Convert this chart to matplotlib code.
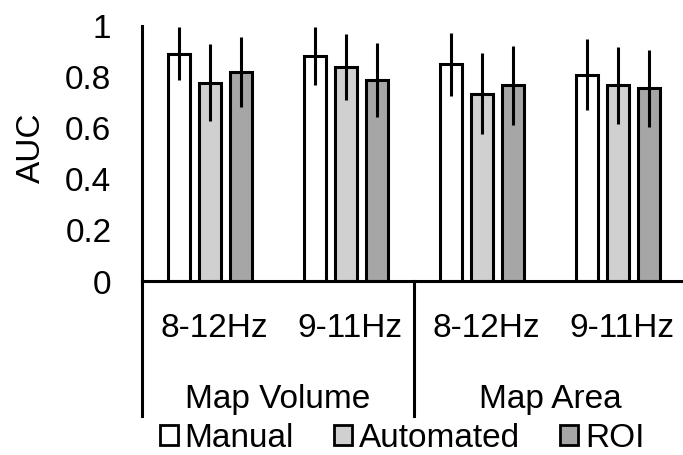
import matplotlib.pyplot as plt
import numpy as np
from matplotlib.lines import Line2D
from matplotlib.patches import Patch
from matplotlib.transforms import blended_transform_factory

plt.rcParams['font.family'] = ['Liberation Sans', 'DejaVu Sans']

# data
bands = ['8-12Hz', '9-11Hz', '8-12Hz', '9-11Hz']
measures = ['Map Volume', 'Map Area']
series = ['Manual', 'Automated', 'ROI']
manual = [0.89, 0.88, 0.848, 0.807]
automated = [0.776, 0.838, 0.733, 0.765]
roi = [0.818, 0.786, 0.765, 0.754]
manual_err = [0.103, 0.113, 0.124, 0.139]
automated_err = [0.152, 0.129, 0.160, 0.150]
roi_err = [0.136, 0.146, 0.156, 0.151]
yticks = [0, 0.2, 0.4, 0.6, 0.8, 1]
ytick_labels = ['0', '0.2', '0.4', '0.6', '0.8', '1']

colors = ['white', '#d0d0d0', '#a6a6a6']
W, H = 683, 456
fs = 24
lw = 2.2

fig = plt.figure(figsize=(W / 100, H / 100), dpi=100)
ax = fig.add_axes([142 / W, (H - 281.5) / H, 544 / W, 255 / H])

x = np.arange(len(bands)) + 0.5
step = 0.228
bw = 0.158
vals = [manual, automated, roi]
errs = [manual_err, automated_err, roi_err]
for i in range(3):
    xi = x + (i - 1) * step
    ax.bar(xi, vals[i], bw, color=colors[i], edgecolor='black', linewidth=lw, zorder=2)
    ax.errorbar(xi, vals[i], yerr=errs[i], fmt='none', ecolor='black',
                elinewidth=2.2, capsize=0, zorder=3)

ax.set_xlim(0, 4)
ax.set_ylim(0, 1)
ax.set_yticks(yticks)
ax.set_yticklabels(ytick_labels, fontsize=fs)
ax.tick_params(axis='y', length=0, pad=22)
ax.set_xticks([])
for s in ['top', 'right']:
    ax.spines[s].set_visible(False)
for s in ['left', 'bottom']:
    ax.spines[s].set_linewidth(lw)

# hierarchical category axis
tr = blended_transform_factory(ax.transData, fig.transFigure)
y_base = (H - 281.5) / H
y_low = (H - 417) / H
fig.add_artist(Line2D([0, 0], [y_base, y_low], transform=tr, color='black', lw=lw))
fig.add_artist(Line2D([2, 2], [y_base, y_low], transform=tr, color='black', lw=lw))

for xi, b in zip(x, bands):
    ax.text(xi + 0.03, (H - 336.7) / H, b, transform=tr, ha='center', va='baseline', fontsize=fs)
for k, m in enumerate(measures):
    ax.text(2 * k + 1, (H - 408.3) / H, m, transform=tr, ha='center', va='baseline', fontsize=fs)

fig.text(31.7 / W, (H - 147.5) / H, 'AUC', rotation=90, ha='center', va='center', fontsize=fs)

handles = [Patch(facecolor=c, edgecolor='black', linewidth=2) for c in colors]
fig.legend(handles, series, loc='center', bbox_to_anchor=(402 / W, (H - 439) / H),
           ncol=3, frameon=False, fontsize=fs, handlelength=0.55, handleheight=0.55,
           handletextpad=0.2, columnspacing=1.2, borderpad=0, borderaxespad=0)

fig.savefig('out.png', dpi=100)
